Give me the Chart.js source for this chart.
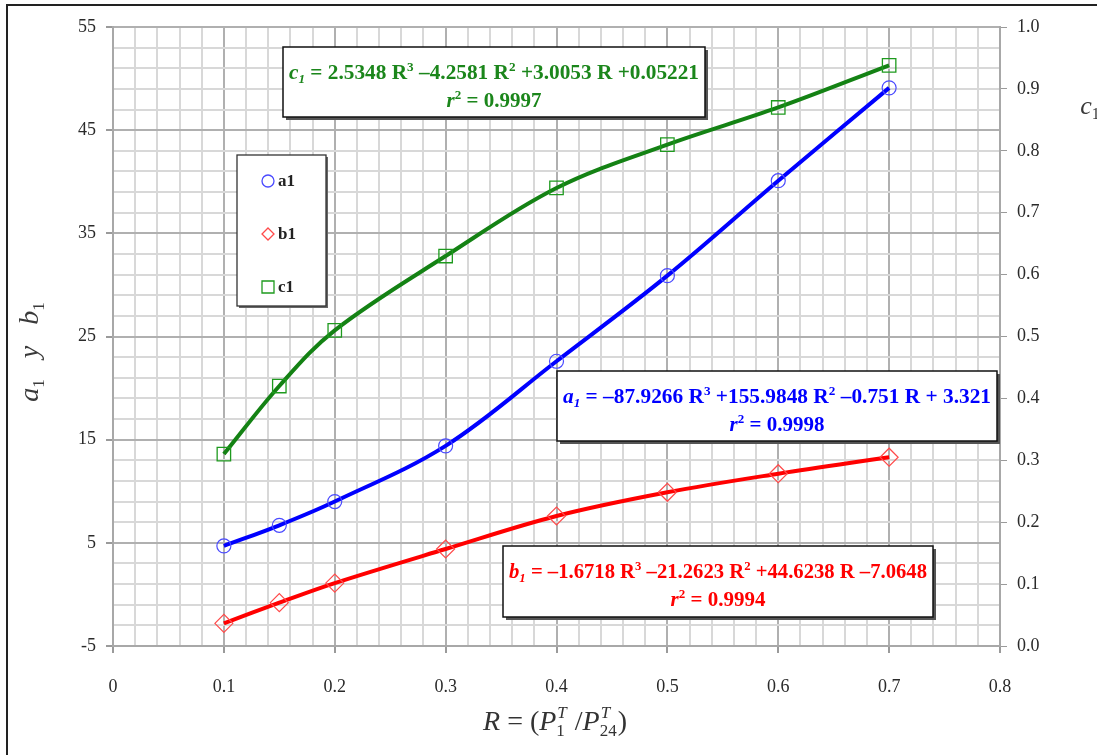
<!DOCTYPE html>
<html>
<head>
<meta charset="utf-8">
<title>a1, b1, c1 vs R</title>
<script src="https://cdn.jsdelivr.net/npm/chart.js@4/dist/chart.umd.min.js"></script>
<style>
  html, body { margin: 0; padding: 0; background: #fff; }
  #wrap { width: 1097px; height: 755px; position: relative; }
</style>
</head>
<body>
<div id="wrap"><canvas id="myChart" width="1097" height="755"></canvas></div>
<script>
// Datos
var rValues  = [0.1, 0.15, 0.2, 0.3, 0.4, 0.5, 0.6, 0.7];
var a1Values = [4.7, 6.7, 9.0, 14.4, 22.6, 30.9, 40.1, 49.1];
var b1Values = [-2.8, -0.8, 1.1, 4.4, 7.6, 9.9, 11.7, 13.3];
var c1Values = [0.31, 0.42, 0.51, 0.63, 0.74, 0.81, 0.87, 0.938];
var seriesNames = ['a1', 'b1', 'c1'];

// Ejes
var xMin = 0, xMax = 0.8, xStep = 0.02;
var yMin = -5, yMax = 55, yStep = 2;
var y1Min = 0, y1Max = 1, y1Step = 0.1;

// Ecuaciones de ajuste (texto)
var eqC1 = [['c', 'i'], ['1', 'isub'], [' = 2.5348 R', ''], ['3', 'sup'], [' \u20134.2581 R', ''], ['2', 'sup'], [' +3.0053 R +0.05221', '']];
var eqA1 = [['a', 'i'], ['1', 'isub'], [' = \u201387.9266 R', ''], ['3', 'sup'], [' +155.9848 R', ''], ['2', 'sup'], [' \u20130.751 R + 3.321', '']];
var eqB1 = [['b', 'i'], ['1', 'isub'], [' = \u20131.6718 R', ''], ['3', 'sup'], [' \u201321.2623 R', ''], ['2', 'sup'], [' +44.6238 R \u20137.0648', '']];
var r2C1 = [['r', 'i'], ['2', 'sup'], [' = 0.9997', '']];
var r2A1 = [['r', 'i'], ['2', 'sup'], [' = 0.9998', '']];
var r2B1 = [['r', 'i'], ['2', 'sup'], [' = 0.9994', '']];

function toPoints(ys) {
  return rValues.map(function (r, i) { return { x: r, y: ys[i] }; });
}

var SERIF = "'Liberation Serif', 'Times New Roman', serif";

// --- texto enriquecido (cursiva, sub y superíndices) ---
function segFont(kind, size, family, bold) {
  var small = kind.indexOf('sub') >= 0 || kind.indexOf('sup') >= 0 || kind === 'stack';
  var sz = small ? Math.round(size * 0.62) : size;
  var it = kind.indexOf('i') === 0 ? 'italic ' : '';
  return it + (bold ? 'bold ' : '') + sz + 'px ' + family;
}
function segWidth(ctx, s, size, family, bold) {
  ctx.font = segFont(s[1], size, family, bold);
  if (s[1] === 'stack') {
    var parts = s[0].split('|');
    return Math.max(ctx.measureText(parts[0]).width, ctx.measureText(parts[1]).width) + 1;
  }
  return ctx.measureText(s[0]).width;
}
function drawRich(ctx, segs, cx, baseline, o) {
  var total = 0;
  segs.forEach(function (s) { total += segWidth(ctx, s, o.size, o.family, o.bold); });
  var sx = o.width ? o.width / total : 1;
  ctx.save();
  ctx.translate(cx - total * sx / 2, baseline);
  ctx.scale(sx, 1);
  ctx.fillStyle = o.color;
  ctx.textBaseline = 'alphabetic';
  ctx.textAlign = 'left';
  var x = 0;
  segs.forEach(function (s) {
    var w = segWidth(ctx, s, o.size, o.family, o.bold);
    var k = s[1];
    if (k === 'stack') {
      var parts = s[0].split('|');
      ctx.font = 'italic ' + Math.round(o.size * 0.62) + 'px ' + o.family;
      ctx.fillText(parts[0], x + 1, -o.size * 0.42);
      ctx.font = Math.round(o.size * 0.62) + 'px ' + o.family;
      ctx.fillText(parts[1], x, o.size * 0.22);
    } else {
      var dy = 0;
      if (k.indexOf('sub') >= 0) dy = o.size * 0.2;
      if (k.indexOf('sup') >= 0) dy = -o.size * 0.38;
      ctx.fillText(s[0], x, dy);
    }
    x += w;
  });
  ctx.restore();
}

function eqBox(ctx, box, lines, color) {
  ctx.save();
  ctx.fillStyle = '#555';
  ctx.fillRect(box.l + 3, box.t + 3, box.r - box.l, box.b - box.t);
  ctx.fillStyle = '#fff';
  ctx.fillRect(box.l, box.t, box.r - box.l, box.b - box.t);
  ctx.strokeStyle = '#111';
  ctx.lineWidth = 1.5;
  ctx.strokeRect(box.l, box.t, box.r - box.l, box.b - box.t);
  ctx.restore();
  var cx = (box.l + box.r) / 2;
  drawRich(ctx, lines[0], cx, box.t + 32, { size: 21, family: SERIF, bold: true, color: color, width: box.r - box.l - 12 });
  drawRich(ctx, lines[1], cx, box.t + 60, { size: 21, family: SERIF, bold: true, color: color });
}

function marker(ctx, style, x, y, r, color) {
  ctx.save();
  ctx.strokeStyle = color;
  ctx.lineWidth = 1.3;
  ctx.beginPath();
  if (style === 'circle') {
    ctx.arc(x, y, r, 0, Math.PI * 2);
  } else if (style === 'rectRot') {
    ctx.moveTo(x, y - r); ctx.lineTo(x + r, y); ctx.lineTo(x, y + r); ctx.lineTo(x - r, y); ctx.closePath();
  } else {
    ctx.rect(x - r, y - r, 2 * r, 2 * r);
  }
  ctx.stroke();
  ctx.restore();
}

var decorPlugin = {
  id: 'decor',
  beforeDraw: function (chart) {
    var ctx = chart.ctx;
    ctx.save();
    ctx.fillStyle = '#fff';
    ctx.fillRect(0, 0, chart.width, chart.height);
    ctx.restore();
  },
  afterDraw: function (chart) {
    var ctx = chart.ctx;
    // cuadros con ecuaciones
    eqBox(ctx, { l: 283, t: 47, r: 705, b: 117 }, [eqC1, r2C1], '#1b861b');
    eqBox(ctx, { l: 557, t: 371, r: 997, b: 441 }, [eqA1, r2A1], '#0000ff');
    eqBox(ctx, { l: 503, t: 546, r: 933, b: 617 }, [eqB1, r2B1], '#ff0000');

    // leyenda
    ctx.save();
    ctx.fillStyle = '#666';
    ctx.fillRect(239, 157, 89, 151);
    ctx.fillStyle = '#fff';
    ctx.fillRect(237, 155, 89, 151);
    ctx.strokeStyle = '#333';
    ctx.lineWidth = 1.3;
    ctx.strokeRect(237, 155, 89, 151);
    ctx.restore();
    var ds = chart.data.datasets;
    var rows = [181, 234, 287];
    ds.forEach(function (d, i) {
      marker(ctx, d.pointStyle, 268, rows[i], 6, d.pointBorderColor);
      ctx.save();
      ctx.font = 'bold 17px ' + SERIF;
      ctx.fillStyle = '#222';
      ctx.textBaseline = 'middle';
      ctx.fillText(seriesNames[i], 278, rows[i] + 1);
      ctx.restore();
    });

    // títulos de ejes
    ctx.save();
    ctx.translate(38, 352);
    ctx.rotate(-Math.PI / 2);
    drawRich(ctx, [['a', 'i'], ['1', 'sub'], ['   ', ''], ['y', 'i'], ['   ', ''], ['b', 'i'], ['1', 'sub']], 0, 0,
      { size: 28, family: SERIF, bold: false, color: '#3a3a3a' });
    ctx.restore();
    drawRich(ctx, [['c', 'i'], ['1', 'sub']], 1090, 114, { size: 26, family: SERIF, bold: false, color: '#3a3a3a' });
    drawRich(ctx, [['R', 'i'], [' = (', ''], ['P', 'i'], ['T|1', 'stack'], [' /', ''], ['P', 'i'], ['T|24', 'stack'], [')', '']],
      555, 730, { size: 28, family: SERIF, bold: false, color: '#333' });

    // marco exterior
    ctx.save();
    ctx.strokeStyle = '#222';
    ctx.lineWidth = 2;
    ctx.strokeRect(7, 5, 1300, 1000);
    ctx.restore();
  }
};

function isMajorX(v) { return Math.round(v * 100) % 10 === 0; }
function isMajorY(v) { return Math.round(v + 5) % 10 === 0; }

var tickFont = { family: SERIF, size: 18 };

var ctx = document.getElementById('myChart');
if (ctx) {
  var myChart = new Chart(ctx, {
    type: 'line',
    data: {
      datasets: [{
        label: seriesNames[0],
        data: toPoints(a1Values),
        yAxisID: 'y',
        borderColor: '#0000ff',
        borderWidth: 4,
        pointStyle: 'circle',
        pointRadius: 7,
        pointBorderColor: '#4a4aff',
        pointBackgroundColor: 'rgba(0,0,0,0)',
        pointBorderWidth: 1.2,
        tension: 0.35
      }, {
        label: seriesNames[1],
        data: toPoints(b1Values),
        yAxisID: 'y',
        borderColor: '#ff0000',
        borderWidth: 4,
        pointStyle: 'rectRot',
        pointRadius: 9,
        pointBorderColor: '#ff4a4a',
        pointBackgroundColor: 'rgba(0,0,0,0)',
        pointBorderWidth: 1.2,
        tension: 0.35
      }, {
        label: seriesNames[2],
        data: toPoints(c1Values),
        yAxisID: 'y1',
        borderColor: '#148214',
        borderWidth: 4,
        pointStyle: 'rect',
        pointRadius: 9.5,
        pointBorderColor: '#1e9a1e',
        pointBackgroundColor: 'rgba(0,0,0,0)',
        pointBorderWidth: 1.3,
        tension: 0.35
      }]
    },
    options: {
      responsive: false,
      animation: false,
      layout: { padding: { top: 27, left: 0, right: 0, bottom: 0 } },
      plugins: {
        legend: { display: false },
        tooltip: { enabled: false }
      },
      scales: {
        x: {
          type: 'linear',
          min: xMin, max: xMax,
          afterFit: function (s) { s.height = 109; },
          border: { color: '#a8a8a8', width: 2 },
          grid: {
            lineWidth: 2,
            color: function (c) { return isMajorX(c.tick.value) ? '#b0b0b0' : '#d8d8d8'; },
            tickLength: 7,
            tickColor: function (c) { return isMajorX(c.tick.value) ? '#9a9a9a' : 'rgba(0,0,0,0)'; }
          },
          ticks: {
            stepSize: xStep,
            autoSkip: false,
            maxRotation: 0,
            padding: 23,
            color: '#2a2a2a',
            font: tickFont,
            callback: function (v) {
              if (!isMajorX(v)) return '';
              return v === 0 ? '0' : (Math.round(v * 10) / 10).toFixed(1);
            }
          }
        },
        y: {
          type: 'linear',
          position: 'left',
          min: yMin, max: yMax,
          afterFit: function (s) { s.width = 113; },
          border: { color: '#a8a8a8', width: 2 },
          grid: {
            lineWidth: 2,
            color: function (c) { return isMajorY(c.tick.value) ? '#b0b0b0' : '#d8d8d8'; },
            tickLength: 7,
            tickColor: function (c) { return isMajorY(c.tick.value) ? '#9a9a9a' : 'rgba(0,0,0,0)'; }
          },
          ticks: {
            stepSize: yStep,
            autoSkip: false,
            padding: 10,
            color: '#2a2a2a',
            font: tickFont,
            callback: function (v) { return isMajorY(v) ? String(Math.round(v)) : ''; }
          }
        },
        y1: {
          type: 'linear',
          position: 'right',
          min: y1Min, max: y1Max,
          afterFit: function (s) { s.width = 97; },
          border: { color: '#a8a8a8', width: 2 },
          grid: {
            drawOnChartArea: false,
            tickLength: 7,
            tickColor: '#9a9a9a'
          },
          ticks: {
            stepSize: y1Step,
            padding: 10,
            color: '#2a2a2a',
            font: tickFont,
            callback: function (v) { return v.toFixed(1); }
          }
        }
      }
    },
    plugins: [decorPlugin]
  });
} else {
  console.error("Canvas element with ID 'myChart' not found.");
}
</script>
</body>
</html>
